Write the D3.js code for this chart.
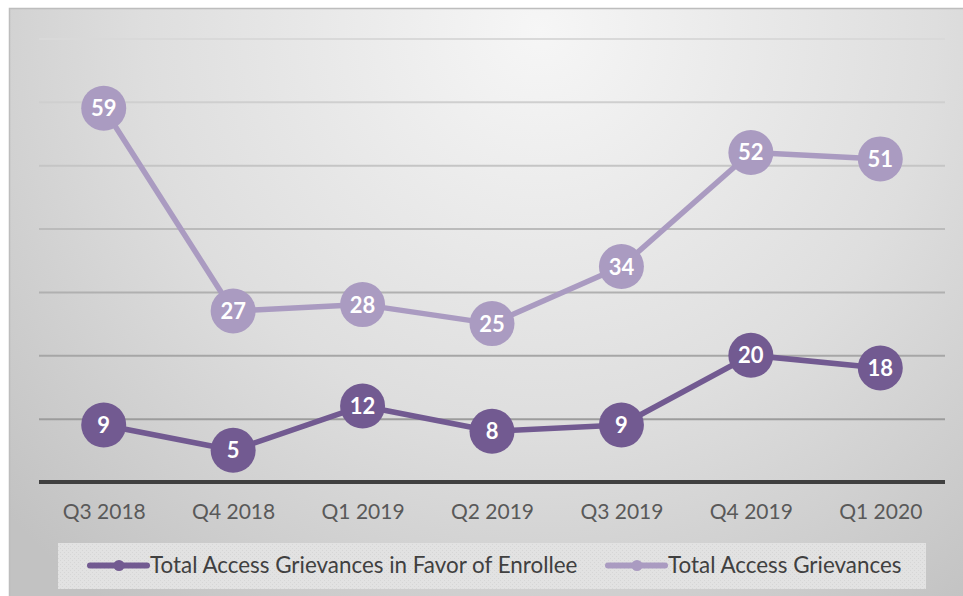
<!DOCTYPE html>
<html>
<head>
<meta charset="utf-8">
<script src="https://cdn.jsdelivr.net/npm/d3@7"></script>
<style>
  html, body { margin: 0; padding: 0; background: #ffffff; }
  svg { display: block; }
</style>
</head>
<body>
<svg id="chart" width="963" height="596"></svg>
<script>
// Quarterly access grievance counts
const quarters = ["Q3 2018", "Q4 2018", "Q1 2019", "Q2 2019", "Q3 2019", "Q4 2019", "Q1 2020"];
const totalGrievances = [59, 27, 28, 25, 34, 52, 51];
const favorOfEnrollee = [9, 5, 12, 8, 9, 20, 18];
const gridValues = [10, 20, 30, 40, 50, 60, 70];

const seriesNames = ["Total Access Grievances in Favor of Enrollee", "Total Access Grievances"];
const seriesColors = ["#725a91", "#aa9bc1"];

const W = 963, H = 596;
const plot = { left: 39, right: 945, top: 38.5, bottom: 482 };

const svg = d3.select("#chart");
const defs = svg.append("defs");

// Soft gray background: light near the top, darker toward the edges
const bg = defs.append("radialGradient")
  .attr("id", "bgGrad")
  .attr("gradientUnits", "userSpaceOnUse")
  .attr("cx", 540).attr("cy", 30).attr("r", 720);
bg.append("stop").attr("offset", "0%").attr("stop-color", "#f6f6f6");
bg.append("stop").attr("offset", "55%").attr("stop-color", "#dedede");
bg.append("stop").attr("offset", "100%").attr("stop-color", "#c2c2c2");

// Fine dotted texture for the legend panel
const pat = defs.append("pattern")
  .attr("id", "legendTex")
  .attr("patternUnits", "userSpaceOnUse")
  .attr("width", 4).attr("height", 4);
pat.append("rect").attr("width", 4).attr("height", 4).attr("fill", "#e2e2e2");
pat.append("rect").attr("x", 0).attr("y", 0).attr("width", 1).attr("height", 1).attr("fill", "#d6d6d6");
pat.append("rect").attr("x", 2).attr("y", 2).attr("width", 1).attr("height", 1).attr("fill", "#d6d6d6");

// Chart frame
svg.append("rect")
  .attr("x", 9).attr("y", 8)
  .attr("width", W - 9).attr("height", H - 8)
  .attr("fill", "url(#bgGrad)");
svg.append("path")
  .attr("d", `M9.5,${H} V8.5 H${W}`)
  .attr("fill", "none")
  .attr("stroke", "#bdbdbd")
  .attr("stroke-width", 1.5);

// Scales
const x = d3.scalePoint()
  .domain(quarters)
  .range([plot.left, plot.right])
  .padding(0.5);

const y = d3.scaleLinear()
  .domain([0, 70])
  .range([plot.bottom, plot.top]);

// Horizontal gridlines, darker toward the baseline
const gridColor = d3.scaleLinear().domain([10, 70]).range(["#9c9c9c", "#d9d9d9"]);
const yAxis = d3.axisLeft(y)
  .tickValues(gridValues)
  .tickSize(-(plot.right - plot.left))
  .tickFormat("");
const gGrid = svg.append("g")
  .attr("transform", `translate(${plot.left},0)`)
  .call(yAxis);
gGrid.select(".domain").remove();
gGrid.selectAll(".tick line")
  .attr("stroke", d => gridColor(d))
  .attr("stroke-width", 2);

// Category axis
const xAxis = d3.axisBottom(x).tickSize(0).tickPadding(0);
const gX = svg.append("g")
  .attr("transform", `translate(0,${plot.bottom})`)
  .call(xAxis);
gX.select(".domain").remove();
gX.selectAll(".tick text")
  .attr("y", 37)
  .attr("dy", 0)
  .attr("fill", "#595959")
  .style("font-family", "Lato, 'Open Sans', sans-serif")
  .style("font-size", "21px");
svg.append("line")
  .attr("x1", plot.left).attr("x2", plot.right)
  .attr("y1", plot.bottom).attr("y2", plot.bottom)
  .attr("stroke", "#404040")
  .attr("stroke-width", 4);

// Series lines with labelled markers
const series = [
  { name: seriesNames[1], values: totalGrievances, color: seriesColors[1] },
  { name: seriesNames[0], values: favorOfEnrollee, color: seriesColors[0] }
];

const line = d3.line()
  .x((d, i) => x(quarters[i]))
  .y(d => y(d));

series.forEach(s => {
  const g = svg.append("g");
  g.append("path")
    .datum(s.values)
    .attr("d", line)
    .attr("fill", "none")
    .attr("stroke", s.color)
    .attr("stroke-width", 5.5)
    .attr("stroke-linejoin", "round");
  const pts = g.selectAll("g.pt")
    .data(s.values)
    .join("g")
    .attr("class", "pt")
    .attr("transform", (d, i) => `translate(${x(quarters[i])},${y(d)})`);
  pts.append("circle")
    .attr("r", 22.5)
    .attr("fill", s.color);
  pts.append("text")
    .text(d => d)
    .attr("text-anchor", "middle")
    .attr("dy", "0.36em")
    .attr("fill", "#ffffff")
    .style("font-family", "Lato, 'Open Sans', sans-serif")
    .style("font-weight", "bold")
    .style("font-size", "22px");
});

// Legend
const legend = svg.append("g");
legend.append("rect")
  .attr("x", 58).attr("y", 543)
  .attr("width", 868).attr("height", 46)
  .attr("fill", "url(#legendTex)");

const legendItems = [
  { name: seriesNames[0], color: seriesColors[0], x0: 90 },
  { name: seriesNames[1], color: seriesColors[1], x0: 608 }
];
const ly = 565.5;
legendItems.forEach(it => {
  const g = legend.append("g").attr("transform", `translate(${it.x0},${ly})`);
  g.append("line")
    .attr("x1", 0).attr("x2", 57)
    .attr("y1", 0).attr("y2", 0)
    .attr("stroke", it.color)
    .attr("stroke-width", 6)
    .attr("stroke-linecap", "round");
  g.append("circle")
    .attr("cx", 29).attr("cy", 0).attr("r", 5.5)
    .attr("fill", it.color);
  g.append("text")
    .attr("x", 60).attr("y", 0)
    .attr("dy", "0.35em")
    .attr("fill", "#404040")
    .style("font-family", "Lato, 'Open Sans', sans-serif")
    .style("font-size", "22.4px")
    .text(it.name);
});
</script>
</body>
</html>
